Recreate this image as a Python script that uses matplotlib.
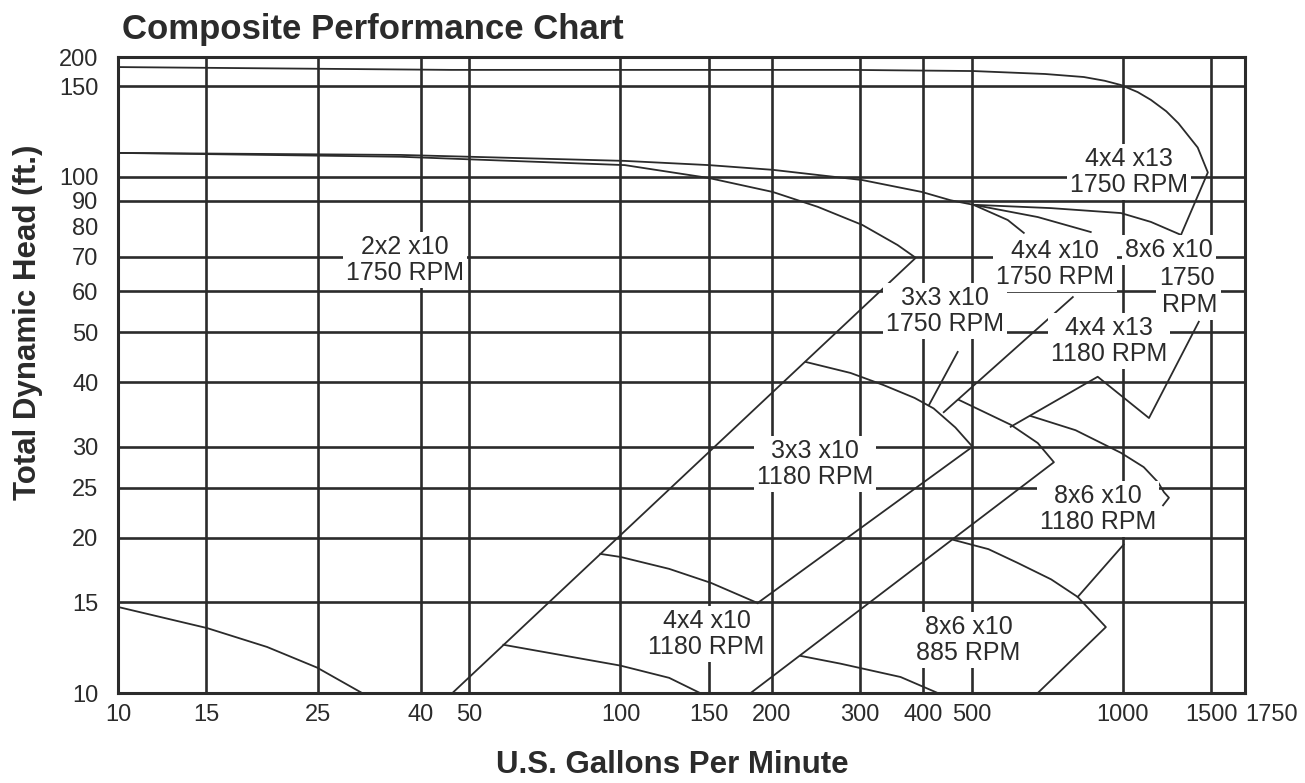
import numpy as np
import matplotlib
matplotlib.use("Agg")
import matplotlib.pyplot as plt
from matplotlib.ticker import FixedLocator, FixedFormatter, NullLocator

# axis ticks and grid
x_ticks = [10, 15, 25, 40, 50, 100, 150, 200, 300, 400, 500, 1000, 1500, 1750]
y_ticks = [10, 15, 20, 25, 30, 40, 50, 60, 70, 80, 90, 100, 150, 200]
x_grid = [15, 25, 40, 50, 100, 150, 200, 300, 400, 500, 1000, 1500]
y_grid = [15, 20, 25, 30, 40, 50, 60, 70, 90, 100, 150]

# pump curves, gpm / ft
q_4x4x13_1750 = [10, 46, 287, 504, 700, 836, 920, 991, 1070, 1137, 1220, 1290,
                 1409, 1476, 1305]
h_4x4x13_1750 = [181, 176, 176, 174, 169, 164, 158, 151.5, 146, 141, 134, 127,
                 114, 102, 77.2]

q_top_1750 = [10, 36.5, 102, 150, 201, 303, 398, 454, 504]
h_top_1750 = [111.3, 110.3, 107.4, 105.4, 103.2, 98.6, 93.5, 90.1, 88.3]
q_branch1 = [504, 590, 635]
h_branch1 = [88.3, 82.5, 77.9]
q_branch2 = [504, 677, 863]
h_branch2 = [88.3, 83.6, 78.2]
q_branch3 = [504, 719, 991, 1137, 1305]
h_branch3 = [88.3, 87.0, 85.1, 81.8, 77.2]

q_2x2x10_1750 = [10, 36.5, 102, 150, 201, 247, 303, 356, 387, 46.3]
h_2x2x10_1750 = [111.3, 109.4, 105.4, 99.5, 93.5, 87.5, 80.7, 73.8, 69.7, 10]

q_3x3x10_1180 = [233.7, 287, 334, 385, 420, 464, 502, 187.5]
h_3x3x10_1180 = [43.8, 41.7, 39.5, 37.3, 35.6, 32.7, 30.0, 14.94]

q_4x4x10_1180 = [91.2, 100, 125, 151.5, 187.5]
h_4x4x10_1180 = [18.6, 18.35, 17.4, 16.34, 14.94]

q_low_1180 = [58.5, 100, 125, 144]
h_low_1180 = [12.4, 11.3, 10.7, 10]

q_2x2x10_1180 = [10, 15.04, 19.8, 24.9, 30.6]
h_2x2x10_1180 = [14.68, 13.36, 12.28, 11.2, 10]

q_8x6x10_tip = [471, 598, 677, 729, 181.6]
h_8x6x10_tip = [37.0, 33.1, 30.5, 28.0, 10]

q_885_top = [460, 540, 618, 720, 813, 925, 677]
h_885_top = [19.8, 19.0, 17.86, 16.6, 15.35, 13.42, 10]
q_885_low = [228.4, 274, 361, 428]
h_885_low = [11.8, 11.4, 10.74, 10]

q_lead_3x3 = [469, 411]
h_lead_3x3 = [45.8, 36.1]
q_lead_4x4 = [440, 795]
h_lead_4x4 = [35.0, 58.5]

q_4x4x13_1180 = [598, 891, 1127, 1416]
h_4x4x13_1180 = [32.8, 41.0, 34.1, 52.4]

q_8x6x10_1180 = [656, 805, 991, 1100, 1175, 1207, 1235, 1202]
h_8x6x10_1180 = [34.4, 32.3, 29.2, 27.4, 25.6, 24.5, 23.9, 23.1]
q_lead_8x6 = [1004, 813]
h_lead_8x6 = [19.4, 15.35]

curves = [
    (q_4x4x13_1750, h_4x4x13_1750), (q_top_1750, h_top_1750),
    (q_branch1, h_branch1), (q_branch2, h_branch2), (q_branch3, h_branch3),
    (q_2x2x10_1750, h_2x2x10_1750), (q_3x3x10_1180, h_3x3x10_1180),
    (q_4x4x10_1180, h_4x4x10_1180), (q_low_1180, h_low_1180),
    (q_2x2x10_1180, h_2x2x10_1180), (q_8x6x10_tip, h_8x6x10_tip),
    (q_885_top, h_885_top), (q_885_low, h_885_low),
    (q_lead_3x3, h_lead_3x3), (q_lead_4x4, h_lead_4x4),
    (q_4x4x13_1180, h_4x4x13_1180), (q_8x6x10_1180, h_8x6x10_1180),
    (q_lead_8x6, h_lead_8x6),
]

# label text and where it sits (gpm, ft)
labels = [
    ("2x2 x10\n1750 RPM", 37.3, 69.0),
    ("3x3 x10\n1750 RPM", 442, 55.0),
    ("4x4 x10\n1750 RPM", 732, 67.8),
    ("4x4 x13\n1750 RPM", 1028, 102.3),
    ("8x6 x10", 1235, 72.1),
    ("1750", 1341, 63.7),
    ("RPM", 1360, 56.5),
    ("4x4 x13\n1180 RPM", 938, 48.1),
    ("3x3 x10\n1180 RPM", 243.5, 27.8),
    ("8x6 x10\n1180 RPM", 891, 22.7),
    ("4x4 x10\n1180 RPM", 148.4, 13.0),
    ("8x6 x10\n885 RPM", 493, 12.67),
]

# log scale, but the 150-200 band is squeezed like the print
K_TOP = 0.45
B = np.log10(150)


def fwd(y):
    t = np.log10(np.maximum(np.asarray(y, float), 1e-3))
    return np.where(t > B, B + (t - B) * K_TOP, t)


def inv(t):
    t = np.asarray(t, float)
    return 10 ** np.where(t > B, B + (t - B) / K_TOP, t)


ink = '#2b2b2b'
plain = ['Liberation Sans', 'DejaVu Sans']

fig = plt.figure(figsize=(13.05, 7.83), dpi=100)
ax = fig.add_axes([118 / 1305, 1 - 693 / 783, 1127 / 1305, 636 / 783])
ax.set_xscale('log')
ax.set_yscale('function', functions=(fwd, inv))
ax.set_xlim(10, 1750)
ax.set_ylim(10, 200)

for g in x_grid:
    ax.axvline(g, color=ink, lw=1.9, zorder=1)
for g in y_grid:
    ax.axhline(g, color=ink, lw=1.9, zorder=1)

for q, h in curves:
    ax.plot(q, h, color=ink, lw=1.3, zorder=2, solid_joinstyle='round')

for txt, q, h in labels:
    ax.text(q, h, txt, ha='center', va='center', fontsize=18, color=ink,
            family=plain, linespacing=1.1, zorder=4,
            bbox=dict(boxstyle='square,pad=0.12', fc='white', ec='none'))

ax.xaxis.set_major_locator(FixedLocator(x_ticks))
ax.xaxis.set_major_formatter(FixedFormatter([str(v) for v in x_ticks]))
ax.xaxis.set_minor_locator(NullLocator())
ax.yaxis.set_major_locator(FixedLocator(y_ticks))
ax.yaxis.set_major_formatter(FixedFormatter([str(v) for v in y_ticks]))
ax.yaxis.set_minor_locator(NullLocator())
ax.tick_params(length=0, labelsize=17, colors=ink)
ax.tick_params(axis='y', pad=14)
ax.tick_params(axis='x', pad=8)
for lab in ax.get_xticklabels() + ax.get_yticklabels():
    lab.set_family(plain)
# last label sits just right of the border so it clears "1500"
ax.get_xticklabels()[-1].set_ha('left')
for s in ax.spines.values():
    s.set_linewidth(2.2)
    s.set_color(ink)
    s.set_zorder(5)

fig.text(122 / 1305, 1 - 29 / 783, "Composite Performance Chart", ha='left',
         va='center', fontsize=25, fontweight='bold', family=plain,
         color=ink)
fig.text(28 / 1305, 1 - 322 / 783, "Total Dynamic Head (ft.)", rotation=90,
         ha='center', va='center', fontsize=22.5, fontweight='bold',
         family=plain, color=ink)
fig.text(672 / 1305, 1 - 765 / 783, "U.S. Gallons Per Minute", ha='center',
         va='center', fontsize=22.5, fontweight='bold', family=plain,
         color=ink)

fig.savefig('out.png', dpi=100, facecolor='white')
